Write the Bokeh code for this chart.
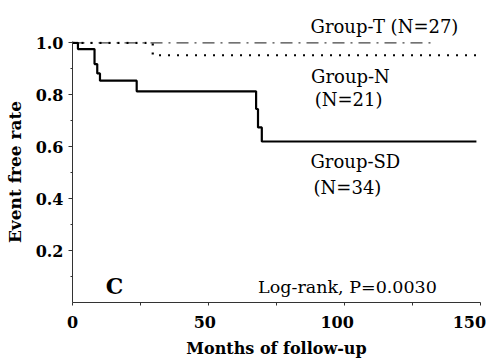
from bokeh.plotting import figure
from bokeh.models import Range1d, FixedTicker, Label, LinearAxis
from bokeh.embed import file_html
from bokeh.resources import INLINE

# ---- data ----
months_sd = [0, 2.0, 8.1, 9.1, 10.1, 23.6, 67.5, 68.2, 69.6, 148.5]
surv_sd = [1.0, 0.976, 0.918, 0.882, 0.854, 0.813, 0.745, 0.674, 0.620, 0.620]

months_n = [0, 29.5, 149.0]
surv_n = [1.0, 0.952, 0.952]

months_t = [0, 132.7]
surv_t = [1.0, 1.0]

x_ticks = [0, 50, 100, 150]
x_minor = [25, 75, 125]
x_tick_labels = ["0", "50", "100", "150"]
y_ticks = [0.2, 0.4, 0.6, 0.8, 1.0]
y_minor = [0.1, 0.3, 0.5, 0.7, 0.9]
y_tick_labels = ["0.2", "0.4", "0.6", "0.8", "1.0"]

group_texts = ["Group-T (N=27)", "Group-N", "(N=21)", "Group-SD", "(N=34)"]
panel_letter = "C"
test_text = "Log-rank, P=0.0030"

SERIF = "DejaVu Serif"
X_MAX = 150

p = figure(width=486, height=364, output_backend="svg", toolbar_location=None,
           x_range=Range1d(0, X_MAX), y_range=Range1d(0, 1.005),
           x_axis_location=None,
           min_border_left=72, min_border_right=6, min_border_top=41,
           min_border_bottom=62)
p.outline_line_color = None
p.xgrid.visible = False
p.ygrid.visible = False
p.background_fill_color = "white"
p.border_fill_color = "white"

# title carries the Group-T label (above the plot frame)
p.title.text = group_texts[0]
p.title.align = "left"
p.title.offset = 238
p.title.standoff = 10
p.title.text_font = SERIF
p.title.text_font_style = "normal"
p.title.text_font_size = "18px"
p.title.text_color = "black"

# x axis: in the original the tick labels sit a little left of their ticks.
# The labels use a slightly stretched copy of the month scale; the tick marks
# are drawn (as minor ticks) at the true month positions on that scale.
k = 154.2 / X_MAX
p.extra_x_ranges = {"labels": Range1d(0, X_MAX * k)}
xl = LinearAxis(x_range_name="labels",
                ticker=FixedTicker(ticks=x_ticks,
                                   minor_ticks=[t * k for t in x_ticks + x_minor]),
                major_label_overrides={t: l for t, l in zip(x_ticks, x_tick_labels)},
                axis_line_color="#333333", major_tick_line_color=None,
                minor_tick_line_color="#333333", major_tick_in=0, major_tick_out=3,
                minor_tick_in=0, minor_tick_out=3,
                major_label_text_font=SERIF, major_label_text_font_style="bold",
                major_label_text_font_size="16px", major_label_text_color="black",
                major_label_standoff=10,
                axis_label="Months of follow-up", axis_label_text_font=SERIF,
                axis_label_text_font_style="bold", axis_label_text_font_size="16px",
                axis_label_text_color="black", axis_label_standoff=8)
p.add_layout(xl, "below")

# y axis
ya = p.yaxis[0]
ya.ticker = FixedTicker(ticks=y_ticks, minor_ticks=y_minor)
ya.major_label_overrides = {t: l for t, l in zip(y_ticks, y_tick_labels)}
ya.axis_line_color = "#333333"
ya.major_tick_line_color = "#333333"
ya.minor_tick_line_color = "#333333"
ya.major_tick_in = 0
ya.major_tick_out = 4
ya.minor_tick_in = 0
ya.minor_tick_out = 2
ya.major_label_text_font = SERIF
ya.major_label_text_font_style = "bold"
ya.major_label_text_font_size = "16px"
ya.major_label_text_color = "black"
ya.major_label_standoff = 5
ya.axis_label = "Event free rate"
ya.axis_label_text_font = SERIF
ya.axis_label_text_font_style = "bold"
ya.axis_label_text_font_size = "17px"
ya.axis_label_text_color = "black"
ya.axis_label_standoff = 8

# survival curves
p.step(months_t, surv_t, mode="after", line_color="#444444", line_width=1.3,
       line_dash="12 6 2 6")
p.step(months_n, surv_n, mode="after", line_color="black", line_width=2.2,
       line_dash="2 7")
p.step(months_sd, surv_sd, mode="after", line_color="black", line_width=2.2)

# annotations
def add_label(x, y, text, size, bold=False):
    p.add_layout(Label(x=x, y=y, text=text, text_align="center",
                       text_baseline="middle", text_font=SERIF,
                       text_font_size=size, text_color="black",
                       text_font_style="bold" if bold else "normal"))

add_label(102.2, 0.870, group_texts[1], "18px")
add_label(101.5, 0.782, group_texts[2], "18px")
add_label(104.0, 0.543, group_texts[3], "18px")
add_label(101.1, 0.443, group_texts[4], "18px")
add_label(15.4, 0.062, panel_letter, "22px", bold=True)
add_label(101.1, 0.058, test_text, "17.5px")

open("out.html", "w").write(file_html(p, INLINE))
